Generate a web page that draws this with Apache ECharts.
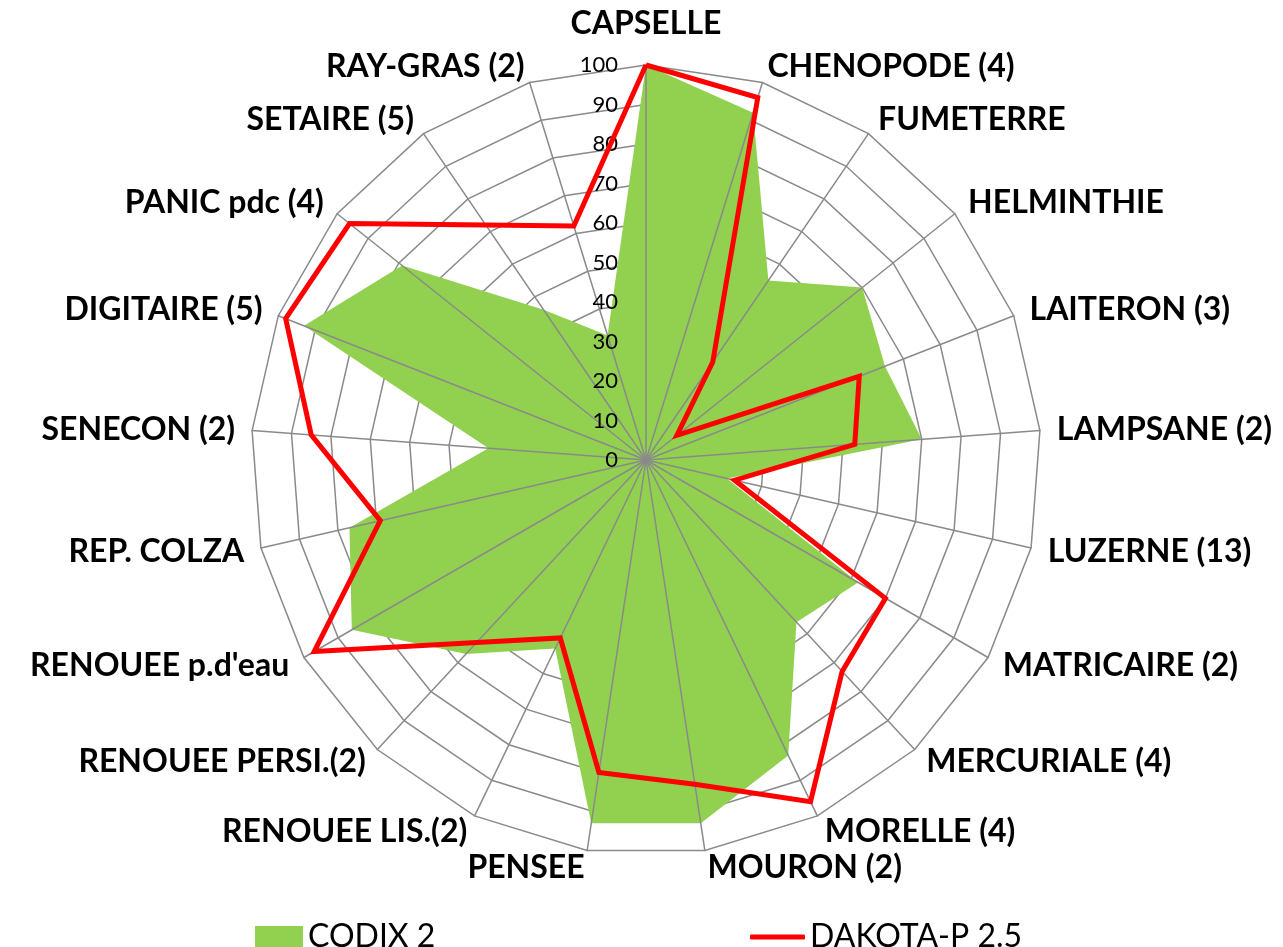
<!DOCTYPE html>
<html>
<head>
<meta charset="utf-8">
<script src="https://cdn.jsdelivr.net/npm/echarts@6/dist/echarts.min.js"></script>
<style>html,body{margin:0;padding:0;background:#fff}#c{width:1283px;height:947px}</style>
</head>
<body>
<div id="c"></div>
<script>
// Categories in clockwise order starting at the top
const categories = [
  'CAPSELLE', 'CHENOPODE (4)', 'FUMETERRE', 'HELMINTHIE', 'LAITERON (3)',
  'LAMPSANE (2)', 'LUZERNE (13)', 'MATRICAIRE (2)', 'MERCURIALE (4)', 'MORELLE (4)',
  'MOURON (2)', 'PENSEE', 'RENOUEE LIS.(2)', 'RENOUEE PERSI.(2)', "RENOUEE p.d'eau",
  'REP. COLZA', 'SENECON (2)', 'DIGITAIRE (5)', 'PANIC pdc (4)', 'SETAIRE (5)', 'RAY-GRAS (2)'
];
const codix2 = [100, 92, 55, 70, 65, 70, 21, 62, 56, 83, 93, 93, 53, 67, 86, 77, 40, 93, 79, 46, 33];
const dakota = [100, 96, 30, 10, 58, 53, 23, 70, 73, 96, 83, 80, 50, 63, 97, 69, 85, 98, 96, 72, 62];
const tickLabels = ['0', '10', '20', '30', '40', '50', '60', '70', '80', '90', '100'];
const seriesNames = ['CODIX 2', 'DAKOTA-P 2.5'];

// ECharts places radar indicators counter-clockwise; reorder so they run clockwise.
const n = categories.length;
const order = categories.map((_, i) => (n - i) % n);
const indicatorsNamed = order.map(k => {
  const o = { name: categories[k], min: 0, max: 100 };
  if (k === 0) o.nameGap = 25;
  return o;
});
const indicatorsPlain = order.map(k => ({ name: categories[k], min: 0, max: 100 }));
const codixR = order.map(k => codix2[k]);
const dakotaR = order.map(k => dakota[k]);

const gray = '#8a8a8a';
const font = 'Lato';

const chart = echarts.init(document.getElementById('c'), null, { renderer: 'canvas' });
chart.setOption({
  animation: false,
  backgroundColor: '#ffffff',
  radar: [
    {
      center: [646, 460], radius: 395, startAngle: 90, shape: 'polygon',
      splitNumber: 10, indicator: indicatorsNamed, nameGap: 17,
      axisName: { color: '#000', fontFamily: font, fontWeight: 'bold', fontSize: 32 },
      splitLine: { lineStyle: { color: gray, width: 1.5 } },
      splitArea: { show: false },
      axisLine: { show: false },
      axisTick: { show: false },
      axisLabel: { show: false },
      z: 0
    },
    {
      center: [646, 460], radius: 395, startAngle: 90, shape: 'polygon',
      splitNumber: 10, indicator: indicatorsPlain,
      axisName: { show: false },
      splitLine: { show: false },
      splitArea: { show: false },
      axisLine: { show: true, lineStyle: { color: gray, width: 1.5 } },
      axisTick: { show: false },
      axisLabel: { show: false },
      z: 3
    }
  ],
  grid: { left: 646, top: 65, width: 1, height: 395 },
  xAxis: { type: 'value', show: false },
  yAxis: {
    type: 'value', min: 0, max: 100, interval: 10, z: 3,
    axisLine: { show: false }, axisTick: { show: false }, splitLine: { show: false },
    axisLabel: {
      margin: 28, color: '#000', fontFamily: font, fontSize: 22,
      formatter: v => tickLabels[Math.round(v / 10)]
    }
  },
  legend: [
    {
      data: [{ name: seriesNames[0], icon: 'rect', itemStyle: { color: '#92D050', borderWidth: 0 } }],
      left: 250, top: 916, itemWidth: 48, itemHeight: 22, selectedMode: false,
      textStyle: { fontFamily: font, fontSize: 32, color: '#000' }
    },
    {
      data: [{ name: seriesNames[1], icon: 'roundRect', itemStyle: { color: '#FF0000', borderWidth: 0 } }],
      left: 745, top: 916, itemWidth: 55, itemHeight: 5, selectedMode: false,
      textStyle: { fontFamily: font, fontSize: 32, color: '#000' }
    }
  ],
  series: [
    {
      type: 'radar', radarIndex: 0, z: 2, symbol: 'none',
      itemStyle: { color: '#92D050' },
      lineStyle: { width: 0, opacity: 0 },
      areaStyle: { color: '#92D050', opacity: 1 },
      data: [{ name: seriesNames[0], value: codixR }]
    },
    {
      type: 'radar', radarIndex: 0, z: 4, symbol: 'none',
      itemStyle: { color: '#FF0000' },
      lineStyle: { color: '#FF0000', width: 5, join: 'miter', miterLimit: 4 },
      data: [{ name: seriesNames[1], value: dakotaR }]
    }
  ]
});
</script>
</body>
</html>
